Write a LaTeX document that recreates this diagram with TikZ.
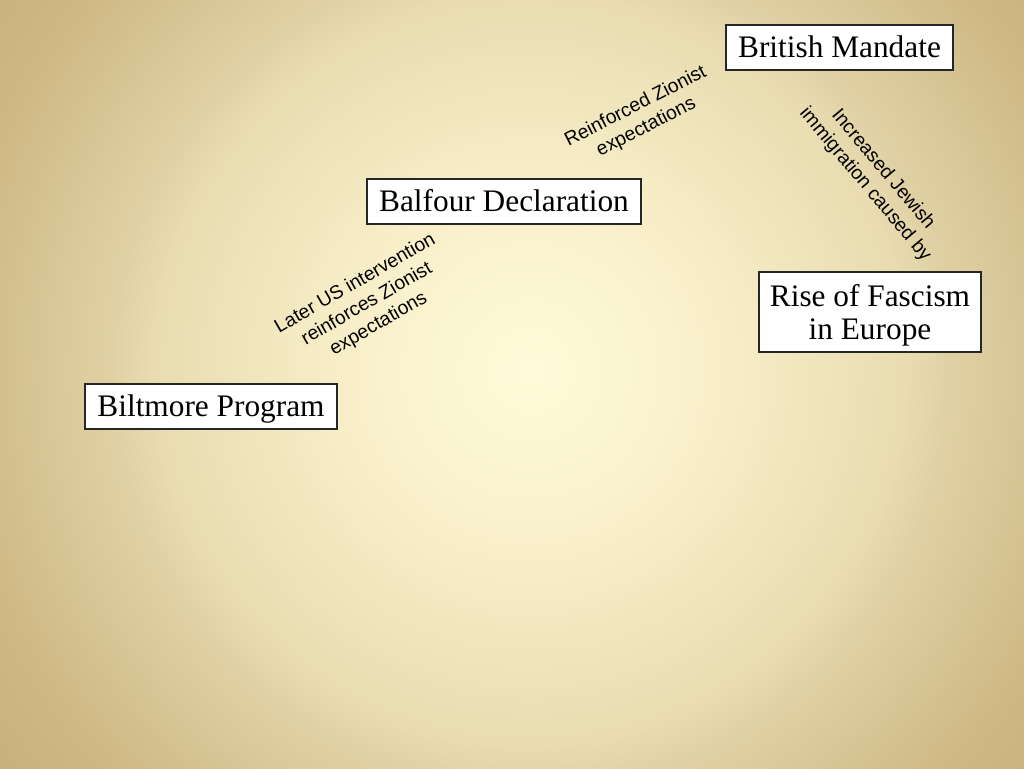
\documentclass[tikz,border=0pt]{standalone}
\usepackage{fontspec}
\setmainfont{Liberation Serif}
\newfontfamily\labelfont{Liberation Sans}
\definecolor{bgA}{RGB}{255,251,216}
\definecolor{bgB}{RGB}{249,240,203}
\definecolor{bgC}{RGB}{232,220,176}
\definecolor{bgD}{RGB}{224,209,164}
\definecolor{bgE}{RGB}{206,184,133}
\definecolor{bgF}{RGB}{196,170,118}
\pgfdeclareradialshading{bgshade}{\pgfpoint{0bp}{0bp}}{%
  color(0bp)=(bgA); color(7.5bp)=(bgB); color(16.6bp)=(bgC); color(18.5bp)=(bgD);
  color(25.5bp)=(bgE); color(33bp)=(bgF); color(50bp)=(bgF)}
\tikzset{
  box/.style={draw=black!85, line width=0.8pt, fill=white, font=\fontsize{23.5}{26}\selectfont,
    align=center, inner sep=0pt},
  onebox/.style={box, text height=16pt, text depth=1pt},
  lbl/.style={font=\labelfont\fontsize{14.5}{17.5}\selectfont, align=center, text=black, inner sep=0pt}
}
\begin{document}
\begin{tikzpicture}[x=0.75pt,y=-0.75pt]
\useasboundingbox (0,0) rectangle (1024,768);
\begin{scope}
\clip (0,0) rectangle (1024,768);
\shade[shading=bgshade] (-36,-196) rectangle (1096,936);
\end{scope}
% nodes
\node[onebox, minimum width=227*0.75pt, minimum height=45*0.75pt] (mandate) at (839.5,47.5) {British Mandate};
\node[onebox, minimum width=274*0.75pt, minimum height=45*0.75pt] (balfour) at (504,201.5) {Balfour Declaration};
\node[onebox, minimum width=252*0.75pt, minimum height=45*0.75pt] (biltmore) at (211,406.5) {Biltmore Program};
\node[box, minimum width=222*0.75pt, minimum height=80*0.75pt] (fascism) at (870,312)
  {\raisebox{-3pt}[\height][\depth]{\begin{tabular}{@{}c@{}}Rise of Fascism\\[-1pt]in Europe\end{tabular}}};
% labels
\node[lbl, rotate=30] (l1) at (367,304) {Later US intervention\\reinforces Zionist\\expectations};
\node[lbl, rotate=27] (l2) at (641,117) {Reinforced Zionist\\expectations};
\node[lbl, rotate=-50] (l3) at (874,177) {Increased Jewish\\immigration caused by};
\end{tikzpicture}
\end{document}
